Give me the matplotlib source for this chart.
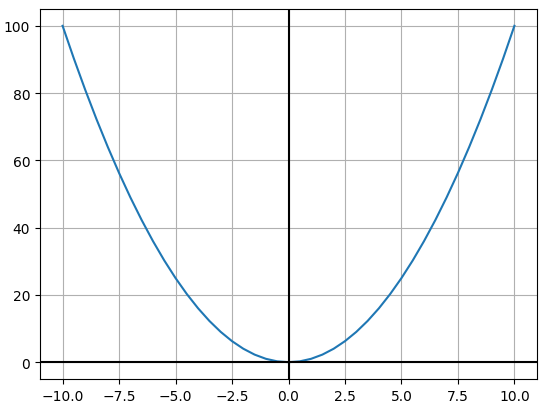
import matplotlib
matplotlib.use("Agg")
import matplotlib.pyplot as plt

# Values
x_vals = [-10.0, -9.5, -9.0, -8.5, -8.0, -7.5, -7.0, -6.5, -6.0, -5.5, -5.0,
          -4.5, -4.0, -3.5, -3.0, -2.5, -2.0, -1.5, -1.0, -0.5, 0.0,
          0.5, 1.0, 1.5, 2.0, 2.5, 3.0, 3.5, 4.0, 4.5, 5.0,
          5.5, 6.0, 6.5, 7.0, 7.5, 8.0, 8.5, 9.0, 9.5, 10.0]
y_vals = [100.0, 90.25, 81.0, 72.25, 64.0, 56.25, 49.0, 42.25, 36.0, 30.25, 25.0,
          20.25, 16.0, 12.25, 9.0, 6.25, 4.0, 2.25, 1.0, 0.25, 0.0,
          0.25, 1.0, 2.25, 4.0, 6.25, 9.0, 12.25, 16.0, 20.25, 25.0,
          30.25, 36.0, 42.25, 49.0, 56.25, 64.0, 72.25, 81.0, 90.25, 100.0]

fig, ax = plt.subplots(figsize=(5.47, 4.06), dpi=100)
fig.subplots_adjust(left=40/547, right=537/547, top=1 - 10/406, bottom=1 - 380/406)

ax.plot(x_vals, y_vals)
ax.axhline(0, color='k')
ax.axvline(0, color='k')
ax.grid(True)

fig.savefig("out.png", dpi=100)
